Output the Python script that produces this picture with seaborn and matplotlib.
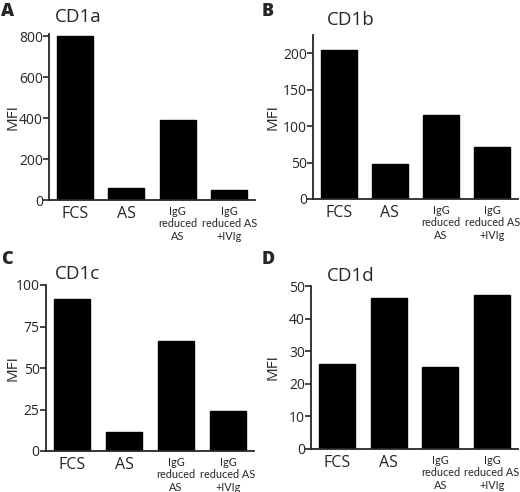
import numpy as np
import pandas as pd
import matplotlib
matplotlib.use("Agg")
import matplotlib.pyplot as plt
import matplotlib.transforms as mtransforms
import seaborn as sns

# Data
conditions = ["FCS", "AS", "IgG reduced AS", "IgG reduced AS +IVIg"]
tick_labels = ["FCS", "AS", "IgG\nreduced\nAS", "IgG\nreduced AS\n+IVIg"]
cd1a = [800, 57, 393, 49]
cd1b = [204.5, 48, 115, 71]
cd1c = [91.4, 11.5, 66.5, 24.3]
cd1d = [26.2, 46.2, 25.2, 47.3]

panels = [
    # letter, title, values, yticks, ylim top, axes rect in px (left, top, width, height)
    ("A", "CD1a", cd1a, [0, 200, 400, 600, 800], 812, (49, 34, 206, 166)),
    ("B", "CD1b", cd1b, [0, 50, 100, 150, 200], 225, (313, 35, 205, 164)),
    ("C", "CD1c", cd1c, [0, 25, 50, 75, 100], 100, (46, 285, 208, 166)),
    ("D", "CD1d", cd1d, [0, 10, 20, 30, 40, 50], 50, (311, 286, 207, 163)),
]
title_pos = {"A": (55, 17), "B": (327, 20), "C": (55, 274), "D": (327, 276)}
letter_pos = {"A": (1, 11), "B": (262, 11), "C": (1, 260), "D": (262, 260)}
ylabel_x = {"A": 13, "B": 273, "C": 13, "D": 273}

sns.set_style("ticks")
plt.rcParams['font.family'] = ['Open Sans', 'DejaVu Sans']

W, H = 520, 492
fig = plt.figure(figsize=(W / 100, H / 100), dpi=100)

for letter, title, values, yticks, ytop, (l, t, w, h) in panels:
    ax = fig.add_axes([l / W, (H - t - h) / H, w / W, h / H])
    df = pd.DataFrame({"condition": conditions, "MFI": values})
    sns.barplot(data=df, x="condition", y="MFI", color="black", width=0.7,
                saturation=1, edgecolor="black", ax=ax)
    ax.set_ylim(0, ytop)
    ax.set_xlim(-0.5, 3.5)
    ax.set_yticks(yticks)
    ax.set_xticks(range(4))
    ax.set_xticklabels(tick_labels)
    for i, lab in enumerate(ax.get_xticklabels()):
        if i < 2:
            lab.set_fontsize(11.5)
        else:
            lab.set_fontsize(7.8)
            lab.set_family(['Lato', 'DejaVu Sans'])
            lab.set_linespacing(1.2)
    ax.tick_params(axis="y", labelsize=10, length=4, width=1.2, pad=0.5)
    ax.tick_params(axis="x", length=0, pad=4)
    ax.set_xlabel("")
    ax.set_ylabel("MFI", fontsize=11, va="center")
    trans = mtransforms.blended_transform_factory(fig.transFigure, ax.transAxes)
    ax.yaxis.set_label_coords(ylabel_x[letter] / W, 0.5, transform=trans)
    sns.despine(ax=ax)
    for s in ["left", "bottom"]:
        ax.spines[s].set_linewidth(1.3)
    tx, ty = title_pos[letter]
    fig.text(tx / W, 1 - ty / H, title, fontsize=13.5, va="center", ha="left")
    lx, ly = letter_pos[letter]
    fig.text(lx / W, 1 - ly / H, letter, fontsize=13, fontweight="heavy",
             va="center", ha="left")

fig.savefig("out.png", dpi=100)
